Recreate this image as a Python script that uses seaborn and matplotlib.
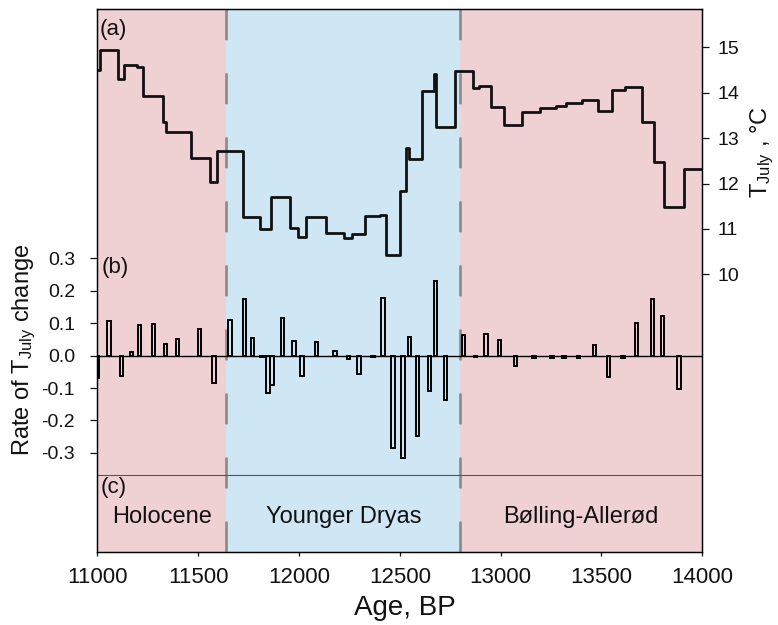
import matplotlib
matplotlib.use("Agg")
import matplotlib.pyplot as plt
import seaborn as sns

# ---------------- data ----------------
step_age = [11000, 11015, 11104, 11134, 11195, 11228, 11327, 11343, 11464, 11558,
            11596, 11723, 11805, 11863, 11954, 11995, 12037, 12136, 12223, 12262,
            12325, 12404, 12433, 12503, 12532, 12545, 12611, 12672, 12680, 12774,
            12862, 12892, 12953, 13016, 13106, 13196, 13277, 13326, 13405, 13482,
            13553, 13615, 13703, 13759, 13808, 13910, 14000]
step_temp = [14.50, 14.94, 14.30, 14.60, 14.56, 13.92, 13.35, 13.13, 12.57, 12.03,
             12.72, 11.27, 11.00, 11.70, 11.03, 10.83, 11.26, 10.90, 10.81, 10.88,
             11.28, 11.31, 10.43, 11.83, 12.79, 12.55, 14.04, 14.41, 13.24, 14.48,
             14.10, 14.15, 13.69, 13.30, 13.58, 13.66, 13.71, 13.77, 13.84, 13.59,
             14.05, 14.13, 13.35, 12.47, 11.49, 12.33, 12.33]

bar_age = [11000, 11059, 11120, 11170, 11210, 11278, 11338, 11398, 11508, 11579,
           11658, 11730, 11769, 11817, 11847, 11867, 11917, 11976, 12016, 12087,
           12178, 12247, 12297, 12368, 12417, 12467, 12516, 12547, 12587, 12648,
           12676, 12727, 12816, 12875, 12927, 12995, 13075, 13166, 13254, 13314,
           13385, 13465, 13534, 13607, 13674, 13753, 13804, 13885]
bar_rate = [-0.070, 0.108, -0.063, 0.011, 0.095, 0.099, 0.037, 0.052, 0.082, -0.085,
            0.109, 0.174, 0.056, -0.005, -0.116, -0.090, 0.117, 0.046, -0.063, 0.043,
            0.014, -0.011, -0.056, -0.005, 0.179, -0.284, -0.315, 0.057, -0.248, -0.108,
            0.231, -0.138, 0.063, -0.005, 0.068, 0.049, -0.032, -0.006, -0.007, -0.007,
            -0.006, 0.034, -0.065, -0.007, 0.102, 0.175, 0.123, -0.104]

period_names = ["Holocene", "Younger Dryas", "Bølling-Allerød"]
period_bounds = [11000, 11640, 12800, 14000]
period_colors = ["#efd1d3", "#cfe6f5", "#efd1d3"]

x_ticks = [11000, 11500, 12000, 12500, 13000, 13500, 14000]
rate_ticks = [-0.3, -0.2, -0.1, 0.0, 0.1, 0.2, 0.3]
rate_ticklabels = ["-0.3", "-0.2", "-0.1", "0.0", "0.1", "0.2", "0.3"]
temp_ticks = [10, 11, 12, 13, 14, 15]

# ---------------- style ----------------
sns.set_theme(style="ticks")
plt.rcParams["font.family"] = ["Liberation Sans", "DejaVu Sans"]
plt.rcParams["axes.unicode_minus"] = False
plt.rcParams["lines.scale_dashes"] = False
plt.rcParams["axes.edgecolor"] = "black"
plt.rcParams["axes.linewidth"] = 0.9
plt.rcParams["text.color"] = "#111111"
plt.rcParams["axes.labelcolor"] = "#111111"

W, H = 778, 625
fig = plt.figure(figsize=(W / 100, H / 100), dpi=100)
ax = fig.add_axes([97.3 / W, 1 - 552 / H, (702.3 - 97.3) / W, (552 - 9) / H])

# background periods
for i in range(3):
    ax.axvspan(period_bounds[i], period_bounds[i + 1], color=period_colors[i],
               lw=0, zorder=0)
for b in period_bounds[1:3]:
    ax.axvline(b, color="#8c8c8c", lw=1.95, linestyle=(0, (22.3, 23.8)), zorder=1)

# bars (rate of change)
sns.barplot(x=bar_age, y=bar_rate, native_scale=True, width=0.85, fill=False,
            color="black", linewidth=1.4, errorbar=None, ax=ax, zorder=3)

ax.axhline(0, color="black", lw=1.0, zorder=2)
ax.axhline(-0.368, color="#555555", lw=0.8, zorder=2)

ax.set_xlim(11000, 14000)
ax.set_ylim(-0.6059, 1.070)
ax.set_xticks(x_ticks)
ax.set_xticklabels([str(t) for t in x_ticks])
ax.set_yticks(rate_ticks)
ax.set_yticklabels(rate_ticklabels)
ax.tick_params(axis="x", direction="out", length=3, width=0.9, pad=8,
               labelsize=16, colors="#111111")
ax.tick_params(axis="y", direction="out", length=5, width=0.9, pad=11,
               labelsize=14, colors="#111111")
ax.set_xlabel("")
ax.set_ylabel("")

# temperature line on twin axis
ax2 = ax.twinx()
sns.lineplot(x=step_age, y=step_temp, drawstyle="steps-post", estimator=None,
             color="#111111", linewidth=2.0, ax=ax2)
ax2.set_ylim(3.884, 15.844)
ax2.set_xlim(11000, 14000)
ax2.set_yticks(temp_ticks)
ax2.set_yticklabels([str(t) for t in temp_ticks])
ax2.tick_params(axis="y", direction="out", length=5, width=0.9, pad=6,
                labelsize=14, colors="#111111")
ax2.set_xlabel("")
ax2.set_ylabel("")
for sp in ax2.spines.values():
    sp.set_color("black")

# period names
for i, name in enumerate(period_names):
    xc = (period_bounds[i] + period_bounds[i + 1]) / 2
    ax.text(xc, -0.498, name, ha="center", va="center", fontsize=17, zorder=4)

# panel labels
fig.text(100 / W, 1 - 29 / H, "(a)", ha="left", va="center", fontsize=16)
fig.text(102 / W, 1 - 267 / H, "(b)", ha="left", va="center", fontsize=16)
fig.text(101 / W, 1 - 488 / H, "(c)", ha="left", va="center", fontsize=16)

# axis labels
fig.text(24 / W, 1 - 350 / H, r"Rate of $\mathregular{T_{July}}$ change",
         rotation=90, ha="center", va="center", fontsize=17)
fig.text(762 / W, 1 - 152 / H, r"$\mathregular{T_{July}}$ , °C",
         rotation=90, ha="center", va="center", fontsize=17)
fig.text(405 / W, 1 - 615 / H, "Age, BP", ha="center", va="baseline", fontsize=20)

fig.savefig("out.png", dpi=100)
